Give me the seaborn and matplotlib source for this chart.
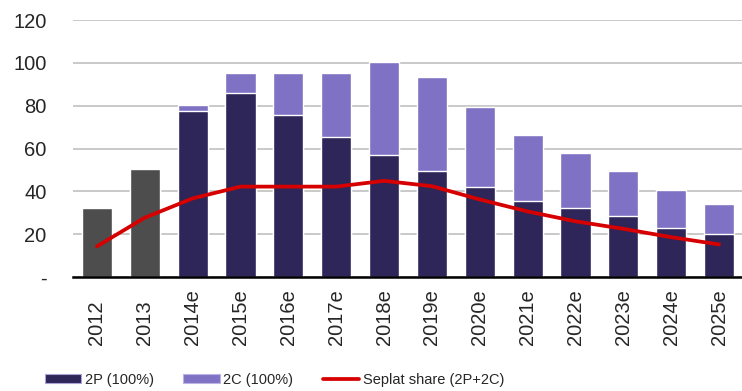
import matplotlib
matplotlib.use("Agg")
import matplotlib.pyplot as plt
import seaborn as sns
from matplotlib.patches import Patch
from matplotlib.lines import Line2D
from matplotlib.ticker import FixedLocator

# Reserves by year (mmboe) and Seplat's net share
years = ["2012", "2013", "2014e", "2015e", "2016e", "2017e", "2018e",
         "2019e", "2020e", "2021e", "2022e", "2023e", "2024e", "2025e"]
reserves_2p = [32.0, 50.5, 77.6, 85.7, 75.6, 65.4, 57.0,
               49.7, 42.2, 35.7, 32.0, 28.3, 22.7, 19.9]
reserves_2c = [0.0, 0.0, 2.7, 9.5, 19.6, 29.8, 43.6,
               43.5, 37.2, 30.6, 25.9, 21.3, 17.7, 14.0]
seplat_share = [14.3, 27.7, 36.7, 42.2, 42.2, 42.2, 44.9,
                42.4, 36.2, 30.6, 26.0, 22.5, 18.6, 15.2]
y_ticks = [0, 20, 40, 60, 80, 100, 120]
y_tick_labels = ["-", "20", "40", "60", "80", "100", "120"]
legend_labels = ["2P (100%)", "2C (100%)", "Seplat share (2P+2C)"]

DARK = "#2e2658"
LIGHT = "#7f72c4"
GREY = "#4d4d4d"
RED = "#d60000"

sns.set_style("white")
plt.rcParams["font.family"] = ["Liberation Sans", "DejaVu Sans"]

fig = plt.figure(figsize=(7.42, 3.91), dpi=100)
ax = fig.add_axes([73 / 742, 1 - 277 / 391, 670 / 742, 257 / 391])

totals = [p + c for p, c in zip(reserves_2p, reserves_2c)]
base_colors = {y: (DARK if y.endswith("e") else GREY) for y in years}

# Stacked bars: full height in light purple, 2P portion drawn over it
sns.barplot(x=years, y=totals, hue=years, palette={y: LIGHT for y in years},
            legend=False, width=0.63, saturation=1, edgecolor="white",
            linewidth=1.0, ax=ax)
sns.barplot(x=years, y=reserves_2p, hue=years, palette=base_colors,
            legend=False, width=0.63, saturation=1, edgecolor="white",
            linewidth=1.0, ax=ax)
sns.lineplot(x=years, y=seplat_share, color=RED, linewidth=2.7, sort=False,
             ax=ax, solid_capstyle="round")

ax.set_xlim(-0.5, len(years) - 0.5)
ax.set_ylim(0, 120)
ax.set_xlabel("")
ax.set_ylabel("")

ax.set_axisbelow(True)
ax.yaxis.grid(True, color="#c0c0c0", linewidth=1.2)
ax.xaxis.grid(False)

ax.set_yticks(y_ticks)
ax.set_yticklabels(y_tick_labels, fontsize=14.5)
ax.tick_params(axis="y", length=0, pad=19)

ax.set_xticks(range(len(years)))
ax.set_xticklabels(years, fontsize=14.5, rotation=90, rotation_mode="anchor",
                   ha="left", va="center")
ax.tick_params(axis="x", which="major", length=0, pad=49)
ax.xaxis.set_minor_locator(FixedLocator([i - 0.5 for i in range(len(years) + 1)]))
ax.tick_params(axis="x", which="minor", length=5.5, width=1.4, color="black",
               direction="out")

for side in ("left", "right", "top"):
    ax.spines[side].set_visible(False)
ax.spines["bottom"].set_color("black")
ax.spines["bottom"].set_linewidth(1.8)

handles = [Patch(facecolor=DARK, edgecolor="#a9a3d6", linewidth=0.8),
           Patch(facecolor=LIGHT, edgecolor="#b9b3e6", linewidth=0.8),
           Line2D([0], [0], color=RED, linewidth=2.7)]
fig.legend(handles, legend_labels, loc="center", ncol=3,
           bbox_to_anchor=(274.5 / 742, 11 / 391), frameon=False,
           fontsize=10.5, handlelength=2.5, handleheight=0.55,
           handletextpad=0.25, columnspacing=2.0, borderpad=0)

fig.savefig("out.png", dpi=100)
